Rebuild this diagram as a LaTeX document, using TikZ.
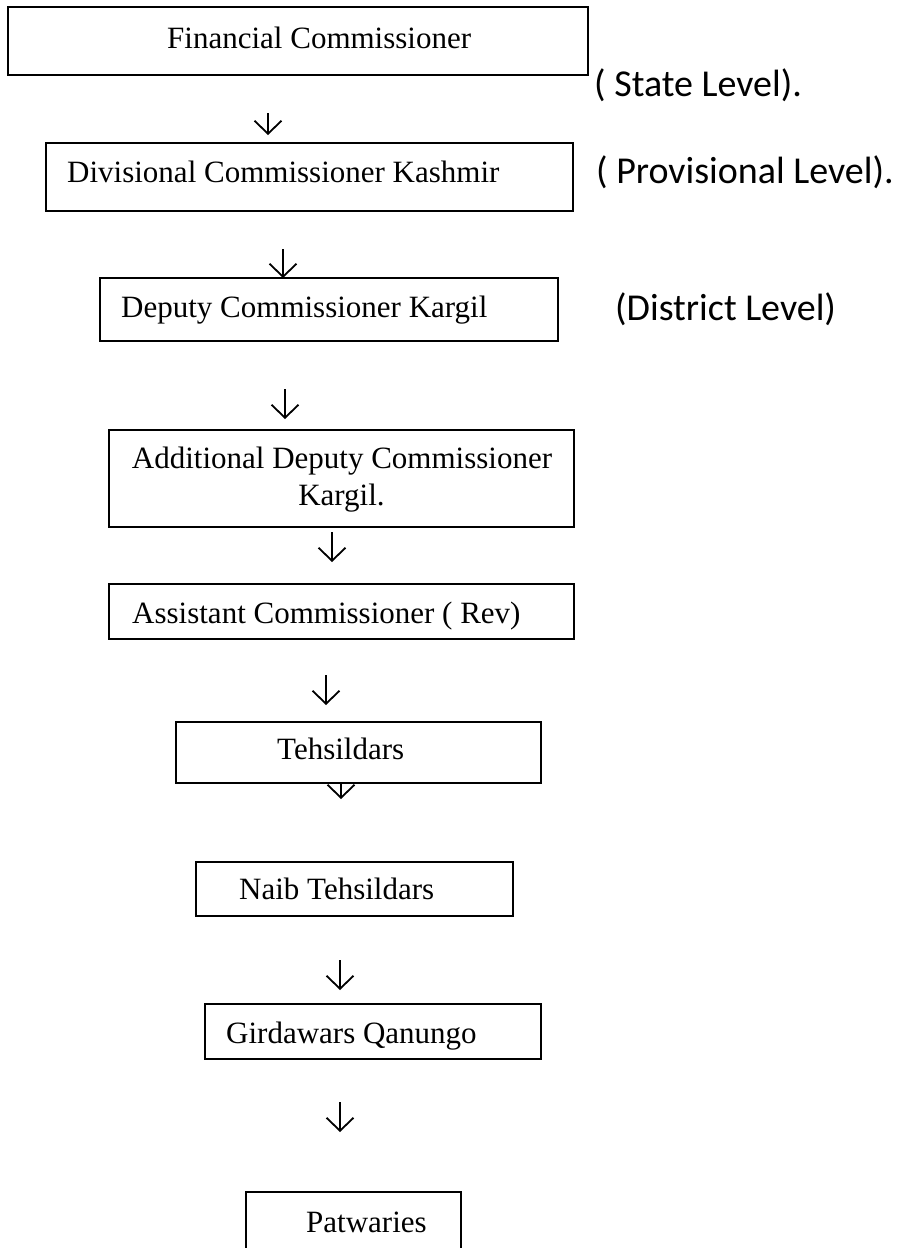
\documentclass[tikz,border=0pt]{standalone}
\usepackage{fontspec}
\setmainfont{Liberation Serif}
\newfontfamily\calibri{Carlito}
\usetikzlibrary{arrows.meta}
\begin{document}
\begin{tikzpicture}[x=1pt,y=-1pt,
  box/.style={draw=black, line width=1.5pt, fill=white, inner sep=0pt, outer sep=0pt, rectangle},
  btext/.style={inner sep=0pt, font=\fontsize{31}{37}\selectfont},
  lvl/.style={inner sep=0pt, anchor=base west, font=\calibri\fontsize{38}{44}\selectfont},
  arr/.style={line width=1.8pt, -{Straight Barb[length=13pt,width=27pt]}}]
\useasboundingbox (0,0) rectangle (904,1248);
\clip (0,0) rectangle (904,1248);
\fill[white] (0,0) rectangle (904,1248);

% arrow partly hidden behind Tehsildars box
\coordinate (a6s) at (341,770);
\coordinate (a6e) at (341,799);
\draw[arr] (a6s) -- (a6e);

% boxes
\node[box, minimum width=580pt, minimum height=68pt] (b1) at (298,41) {};
\node[box, minimum width=527pt, minimum height=68pt] (b2) at (309.5,177) {};
\node[box, minimum width=458pt, minimum height=63pt] (b3) at (329,309.5) {};
\node[box, minimum width=465pt, minimum height=97pt] (b4) at (341.5,478.5) {};
\node[box, minimum width=465pt, minimum height=55pt] (b5) at (341.5,611.5) {};
\node[box, minimum width=365pt, minimum height=61pt] (b6) at (358.5,752.5) {};
\node[box, minimum width=317pt, minimum height=54pt] (b7) at (354.5,889) {};
\node[box, minimum width=336pt, minimum height=55pt] (b8) at (373,1031.5) {};
\node[box, minimum width=215pt, minimum height=78pt] (b9) at (353.5,1231) {};

% box texts
\node[btext, anchor=base west] (t1) at (167,48) {Financial Commissioner};
\node[btext, anchor=base west] (t2) at (67,182) {Divisional Commissioner Kashmir};
\node[btext, anchor=base west] (t3) at (121,317) {Deputy Commissioner Kargil};
\node[btext, anchor=base] (t4a) at (342,468) {Additional Deputy Commissioner};
\node[btext, anchor=base] (t4b) at (341.5,505) {Kargil.};
\node[btext, anchor=base west] (t5) at (132,623) {Assistant Commissioner ( Rev)};
\node[btext, anchor=base west] (t6) at (277,759) {Tehsildars};
\node[btext, anchor=base west] (t7) at (239,899) {Naib Tehsildars};
\node[btext, anchor=base west] (t8) at (226,1043) {Girdawars Qanungo};
\node[btext, anchor=base west] (t9) at (306,1232) {Patwaries};

% level labels
\node[lvl] (l1) at (594,96) {( State Level).};
\node[lvl] (l2) at (596,183) {( Provisional Level).};
\node[lvl] (l3) at (615,320) {(District Level)};

% arrows
\coordinate (a1s) at (268,113);  \coordinate (a1e) at (268,135);
\coordinate (a2s) at (283,249);  \coordinate (a2e) at (283,278);
\coordinate (a3s) at (285,389);  \coordinate (a3e) at (285,419);
\coordinate (a4s) at (332,532);  \coordinate (a4e) at (332,562);
\coordinate (a5s) at (326,675);  \coordinate (a5e) at (326,705);
\coordinate (a7s) at (340,960);  \coordinate (a7e) at (340,990);
\coordinate (a8s) at (340,1102); \coordinate (a8e) at (340,1132);
\draw[arr] (a1s) -- (a1e);
\draw[arr] (a2s) -- (a2e);
\draw[arr] (a3s) -- (a3e);
\draw[arr] (a4s) -- (a4e);
\draw[arr] (a5s) -- (a5e);
\draw[arr] (a7s) -- (a7e);
\draw[arr] (a8s) -- (a8e);
\end{tikzpicture}
\end{document}
